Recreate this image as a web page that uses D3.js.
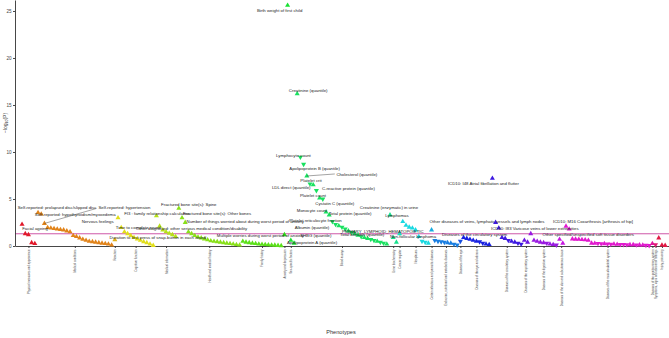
<!DOCTYPE html>
<html>
<head>
<meta charset="utf-8">
<script src="https://cdn.jsdelivr.net/npm/d3@7"></script>
<style>
  body { margin: 0; background: #fff; }
  text { font-family: "Liberation Sans", Arial, sans-serif; }
</style>
</head>
<body>
<svg width="669" height="338"></svg>
<script>
// phenotype categories, in plotting order
const categories = [
  'Physical measures and appearance', 'Medical conditions', 'Reaction', 'Cognitive function',
  'Medical information', 'Health and medical history', 'Family history', 'Anxiety and depression',
  'Sex-specific factors', 'Blood assays', 'Urine biochemistry', 'Cancer register', 'Neoplasms',
  'Certain infectious and parasitic diseases', 'Endocrine, nutritional and metabolic diseases',
  'Diseases of the eye', 'Diseases of the eye and adnexa', 'Diseases of the circulatory system',
  'Diseases of the respiratory system', 'Diseases of the digestive system',
  'Diseases of the skin and subcutaneous tissue', 'Diseases of the musculoskeletal system',
  'Diseases of the genitourinary system', 'Symptoms, signs and abnormal findings', 'Injury, poisoning'
];

// -log10(P) of each phenotype, per category
const catValues = [
  [2.3, 1.3, 1.2, 0.35, 0.25],
  [3.55, 3.4, 2.4, 1.95, 1.9, 1.85, 1.8, 1.75, 1.7, 1.6, 1.5, 1.1, 1.0, 0.85, 0.7, 0.6, 0.5, 0.45, 0.4, 0.35, 0.3, 0.25, 0.2, 0.1],
  [0.65],
  [3.0, 1.95, 1.5, 1.3, 1.1, 0.9, 0.75, 0.6, 0.45, 0.35, 0.2, 0.05],
  [3.2, 2.1, 1.7, 1.5, 1.35, 1.2, 1.0],
  [4.0, 3.0, 2.5, 1.5, 1.3, 1.1, 0.95, 0.85, 0.75, 0.65, 0.55, 0.5, 0.45, 0.4, 0.35, 0.3, 0.25, 0.2, 0.15, 0.1],
  [0.5, 0.4, 0.35, 0.3, 0.25, 0.2, 0.18, 0.15, 0.12, 0.1, 0.08, 0.05, 0.03],
  [1.2],
  [25.6, 0.6, 0.3],
  [16.2, 9.45, 8.7, 7.45, 6.6, 6.5, 5.9, 5.1, 5.0, 3.6, 3.3, 2.6, 2.3, 2.15, 2.0, 1.8, 1.6, 1.45, 1.3, 1.15, 1.0, 0.9, 0.8, 0.7, 0.6, 0.5, 0.4, 0.3, 0.2],
  [3.3, 0.9, 0.4],
  [1.3],
  [2.6, 2.2, 2.0, 1.9, 1.7, 1.0, 0.5, 0.4, 0.3],
  [1.7],
  [0.6, 0.5, 0.45, 0.4, 0.35, 0.3, 0.2, 0.1],
  [0.5],
  [0.9, 0.8, 0.7, 0.6, 0.5, 0.45, 0.3, 0.2, 0.15],
  [7.2, 2.5, 1.9, 0.9, 0.8, 0.6, 0.5, 0.4, 0.3, 0.2],
  [0.6, 0.4],
  [1.3, 0.6, 0.5, 0.4, 0.35, 0.3, 0.2, 0.15, 0.1],
  [0.7, 0.3],
  [2.1, 1.8, 0.75, 0.72, 0.7, 0.68, 0.65, 0.6, 0.3, 0.28, 0.27, 0.25, 0.24, 0.22, 0.2, 0.2, 0.18, 0.17, 0.16, 0.15, 0.14, 0.13, 0.12, 0.11, 0.1, 0.08, 0.05],
  [0.25],
  [0.15],
  [0.85, 0.1, 0.05]
];

// effect direction, u = up triangle, d = down triangle (missing = u)
const catDirs = [
  'uuuuu', 'uuuuuuuuuuuuuuuuuuuuuuuu', 'u', 'uuuuuuuuuuuu', 'uuuuuuu',
  'uuuuuuuuuuuuuuuuuuuu', 'uuuuuuuuuuuuu', 'u', 'uuu',
  'uddudududuuddudduduuduudduddu', 'uuu', 'u', 'uuuuuuddu', 'u', 'dddduudd', 'd',
  'uuuuudduu', 'uuuuuduudd', 'uu', 'uuuuuduud', 'uu',
  'uuuuuuuuuuddudduuddduuduudd', 'u', 'd', 'uuu'
];

// labelled phenotypes: [category, position in category, name]
const annotations = [
  [0, 0, 'Facial ageing'],
  [1, 0, 'Self-reported: prolapsed disc/slipped disc'],
  [1, 1, 'Self-reported: hypothyroidism/myxoedema'],
  [1, 2, 'Self-reported: hypertension'],
  [1, 3, 'Nervous feelings'],
  [2, 0, 'Duration to first press of snap-button in each round'],
  [3, 0, 'FI3 : family relationship calculation'],
  [3, 1, 'Time to complete round'],
  [4, 1, 'Other diagnosed: other serious medical condition/disability'],
  [5, 0, 'Fractured bone site(s): Spine'],
  [5, 1, 'Fractured bone site(s): Other bones'],
  [5, 2, 'Number of things worried about during worst period of anxiety'],
  [7, 0, 'Multiple worries during worst period of anxiety'],
  [8, 0, 'Birth weight of first child'],
  [9, 0, 'Creatinine (quantile)'],
  [9, 1, 'Lymphocyte count'],
  [9, 2, 'Apolipoprotein B (quantile)'],
  [9, 3, 'Cholesterol (quantile)'],
  [9, 4, 'Platelet crit'],
  [9, 5, 'LDL direct (quantile)'],
  [9, 6, 'C-reactive protein (quantile)'],
  [9, 7, 'Platelet count'],
  [9, 8, 'Cystatin C (quantile)'],
  [9, 9, 'Monocyte count'],
  [9, 10, 'Total protein (quantile)'],
  [9, 11, 'Platelet reticulocyte fraction'],
  [9, 12, 'Albumin (quantile)'],
  [9, 13, 'SHBG (quantile)'],
  [9, 14, 'Apolipoprotein A (quantile)'],
  [9, 15, 'Total bilirubin (quantile)'],
  [10, 0, 'Creatinine (enzymatic) in urine'],
  [12, 0, 'PRIMARY_LYMPHOID_HEMATOPOIETIC'],
  [12, 1, 'Lymphomas'],
  [12, 3, 'Non-follicular lymphoma'],
  [16, 0, 'Diseases of the circulatory system'],
  [17, 0, 'ICD10: I48 Atrial fibrillation and flutter'],
  [17, 1, 'Other diseases of veins, lymphatic vessels and lymph nodes'],
  [17, 2, 'ICD10: I83 Varicose veins of lower extremities'],
  [21, 0, 'ICD10: M16 Coxarthrosis [arthrosis of hip]'],
  [21, 1, 'Other specified/unspecified soft tissue disorders']
];

// label offsets from their point in px: [dx, dy, leaderDx, leaderDy]
const labelNudge = [
  [13, 4], [19, -5.6], [34, 0], [80, -16, 52, -15], [50, -5.7], [43, -2], [39, -4], [17, 0],
  [32, 2], [10, -3.5], [35, -4], [60, -1.5], [-24, 1], [-8, 5],
  [11, -3], [-7, -2], [11, 4], [50, -1, 28, -2], [1, -3], [-22, 3], [32, -2], [-6.6, -3],
  [12, 4], [-14, -2], [21, -1], [-17, -0.6], [-23.6, 3.6], [-23, 10], [-30, 15], [17, 5],
  [-1, -7], [-20, 10], [-9, -10], [0.6, 8],
  [11, -3.5], [-9, 5], [-8.6, -1.5], [36, 0], [27, -5], [19, 5]
];

const yTicks = [0, 5, 10, 15, 20, 25];
const threshold = -Math.log10(0.05);

const svg = d3.select('svg');

// flatten
const rows = [];
categories.forEach((c, ci) => {
  catValues[ci].forEach((v, j) => {
    rows.push({ cat: ci, j, value: v, dir: catDirs[ci][j] || 'u', idx: rows.length });
  });
});
const N = rows.length;

const hue = i => (i === 0 ? 355 : 18 + i * 13.7);
const color = i => d3.hsl(hue(i) % 360, 0.8, 0.49).formatHex();

const x = d3.scaleLinear().domain([-2.2, N + 0.2]).range([15, 669]);
const y = d3.scaleLinear().domain([0, 26.17]).range([246, 0]);

const centers = categories.map((c, ci) => {
  const r = rows.filter(d => d.cat === ci);
  return d3.mean(r, d => d.idx);
});

// threshold line
svg.append('line')
  .attr('x1', x.range()[0]).attr('x2', x.range()[1])
  .attr('y1', y(threshold)).attr('y2', y(threshold))
  .attr('stroke', '#c8439e').attr('stroke-width', 0.9);

// axes
const yAxis = d3.axisLeft(y).tickValues(yTicks).tickSize(2).tickSizeOuter(0).tickPadding(1.5);
const yAxisG = svg.append('g').attr('transform', 'translate(15,0)').call(yAxis);
yAxisG.selectAll('text').style('font-size', '4.6px').attr('fill', '#444');
yAxisG.selectAll('line, path').attr('stroke', '#333').attr('stroke-width', 0.9);

const xAxis = d3.axisBottom(x).tickValues(centers).tickSize(2).tickSizeOuter(0)
  .tickFormat((d, i) => categories[i]);
const xAxisG = svg.append('g').attr('transform', 'translate(0,246)').call(xAxis);
xAxisG.selectAll('line, path').attr('stroke', '#333').attr('stroke-width', 0.9);
xAxisG.selectAll('text')
  .style('font-size', '2.8px')
  .attr('fill', '#444')
  .attr('text-anchor', 'end')
  .attr('transform', 'rotate(-90)')
  .attr('x', -3.5).attr('y', 0).attr('dy', '0.35em');

// axis titles
svg.append('text')
  .attr('x', 341).attr('y', 334)
  .attr('text-anchor', 'middle')
  .style('font-size', '5.6px').attr('fill', '#333')
  .text('Phenotypes');

const yt = svg.append('text')
  .attr('transform', 'translate(6.5,123) rotate(-90)')
  .attr('text-anchor', 'middle')
  .style('font-size', '5px').attr('fill', '#333');
yt.append('tspan').text('\u2212log');
yt.append('tspan').attr('dy', 1).style('font-size', '3.5px').text('10');
yt.append('tspan').attr('dy', -1).text('(P)');

// points
const tri = d3.symbol().type(d3.symbolTriangle).size(11);
svg.append('g').selectAll('path').data(rows).enter().append('path')
  .attr('d', tri)
  .attr('transform', d => `translate(${x(d.idx)},${y(d.value)})${d.dir === 'd' ? ' rotate(180)' : ''}`)
  .attr('fill', d => color(d.cat));

// labels
const find = (ci, j) => rows.find(d => d.cat === ci && d.j === j);
const labG = svg.append('g');
annotations.forEach((a, k) => {
  const p = find(a[0], a[1]);
  const px = x(p.idx), py = y(p.value);
  const nd = labelNudge[k];
  if (nd.length > 2) {
    labG.append('line')
      .attr('x1', px).attr('y1', py)
      .attr('x2', px + nd[2]).attr('y2', py + nd[3])
      .attr('stroke', '#333').attr('stroke-width', 0.45);
  }
  labG.append('text')
    .attr('x', px + nd[0]).attr('y', py + nd[1])
    .attr('text-anchor', 'middle').attr('dy', '0.35em')
    .style('font-size', '4.3px').attr('fill', '#222')
    .text(a[2]);
});
</script>
</body>
</html>
